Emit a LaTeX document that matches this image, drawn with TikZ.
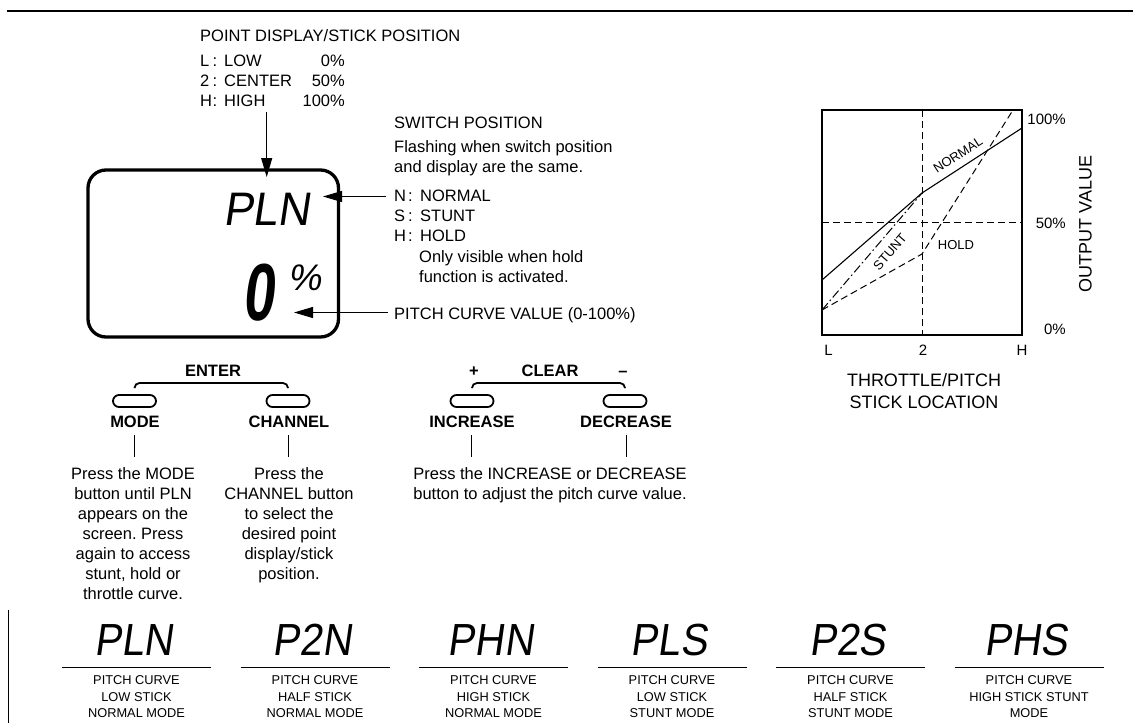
\documentclass[tikz,border=0pt]{standalone}
\usepackage{fontspec}
\usepackage{graphicx}
\setmainfont{Liberation Sans}
\newfontfamily\lcdfont{Liberation Sans}[FakeSlant=0.16]
\usetikzlibrary{arrows.meta}
\frenchspacing
\tikzset{
  txt/.style={font=\fontsize{16.5}{20}\selectfont, inner sep=0pt},
  btxt/.style={font=\fontsize{16.5}{20}\selectfont\bfseries, inner sep=0pt},
  smalltxt/.style={font=\fontsize{12.8}{16}\selectfont, inner sep=0pt},
  glab/.style={font=\fontsize{15}{18}\selectfont, inner sep=0pt},
  clab/.style={font=\fontsize{13}{15}\selectfont, inner sep=0pt},
  blab/.style={font=\fontsize{18}{22}\selectfont, inner sep=0pt},
  lcdtxt/.style={font=\fontsize{45}{48}\lcdfont, inner sep=0pt},
  pill/.style={draw, rectangle, rounded corners=6pt, minimum width=43pt, minimum height=12pt, line width=1.8pt, inner sep=0pt},
  ptr/.style={line width=1pt, -{Triangle[length=19pt,width=11pt]}},
  hair/.style={line width=1pt},
  brk/.style={line width=1.8pt, rounded corners=5pt},
  dsh/.style={line width=1pt, dash pattern=on 7pt off 4pt},
}
\begin{document}
\begin{tikzpicture}[x=1pt,y=-1pt]
\useasboundingbox (0,0) rectangle (1133,723);
% top rule
\coordinate (r1) at (6.7,11);
\coordinate (r2) at (1133,11);
\draw[line width=1.3pt] (r1) -- (r2);

% point display legend
\node[txt, anchor=base west] (pdsp) at (200,41.6) {POINT DISPLAY/STICK POSITION};
\foreach \a/\w/\p/\y [count=\i] in {L/LOW/0\%/66, 2/CENTER/50\%/86, H/HIGH/100\%/106.5} {
  \node[txt, anchor=base west] (pk\i) at (200,\y) {\a};
  \node[txt, anchor=base west] (pc\i) at (212.5,\y) {:};
  \node[txt, anchor=base west] (pw\i) at (224,\y) {\w};
  \node[txt, anchor=base east] (pp\i) at (345,\y) {\p};
}

% LCD box
\node[draw, line width=3.3pt, rounded corners=18pt, minimum width=250.5pt, minimum height=167pt, inner sep=0pt] (lcd) at (213.25,253.5) {};
\node[font=\fontsize{47}{50}\lcdfont, inner sep=0pt, anchor=base west] (lcdpln) at (223,225) {\scalebox{0.95}[1]{PLN}};
\node[font=\fontsize{81}{84}\lcdfont\bfseries, inner sep=0pt, anchor=base west] (lcdzero) at (242,320) {\scalebox{0.7}[1]{0}};
\node[font=\fontsize{37}{40}\lcdfont, inner sep=0pt, anchor=north west] (lcdpct) at (288,265) {\%};

\coordinate (aHtail) at (266.7,112);
\coordinate (aHtip) at (266.7,177);
\draw[ptr] (aHtail) -- (aHtip);

% switch position
\node[txt, anchor=base west] (swt) at (394,128.6) {SWITCH POSITION};
\node[txt, anchor=base west] (sw1) at (394,152.4) {Flashing when switch position};
\node[txt, anchor=base west] (sw2) at (394,172.4) {and display are the same.};
\foreach \a/\w/\y [count=\i] in {N/NORMAL/201, S/STUNT/221, H/HOLD/241} {
  \node[txt, anchor=base west] (sk\i) at (394,\y) {\a};
  \node[txt, anchor=base west] (sc\i) at (408,\y) {:};
  \node[txt, anchor=base west] (sw\i) at (420,\y) {\w};
}
\node[txt, anchor=base west] (only1) at (419,262) {Only visible when hold};
\node[txt, anchor=base west] (only2) at (419,282) {function is activated.};
\node[txt, anchor=base west] (pcv) at (394,319) {PITCH CURVE VALUE (0-100\%)};

\coordinate (a2tail) at (386,196.5);
\coordinate (a2tip) at (323,196.5);
\draw[ptr] (a2tail) -- (a2tip);
\coordinate (a3tail) at (388,312.5);
\coordinate (a3tip) at (294,312.5);
\draw[ptr] (a3tail) -- (a3tip);

% buttons
\node[btxt, anchor=base] (enter) at (213,376) {ENTER};
\node[btxt, anchor=base] (clear) at (550,376) {CLEAR};
\node[btxt, anchor=base] (plus) at (474,376) {+};
\node[btxt, anchor=base] (minus) at (623,376) {\textendash};
\node[pill] (bmode) at (134.5,401) {};
\node[pill] (bchan) at (288,401) {};
\node[pill] (binc) at (472,401) {};
\node[pill] (bdec) at (625,401) {};
\draw[brk] ([yshift=6pt]bmode.north) |- (enter.south |- 0,383) -| ([yshift=6pt]bchan.north);
\draw[brk] ([yshift=6pt]binc.north) |- (clear.south |- 0,383) -| ([yshift=6pt]bdec.north);

\node[btxt, anchor=base] (lmode) at (135,427.6) {MODE};
\node[btxt, anchor=base] (lchan) at (289,427.6) {CHANNEL};
\node[btxt, anchor=base] (linc) at (472,427.6) {INCREASE};
\node[btxt, anchor=base] (ldec) at (626,427.6) {DECREASE};
\foreach \n/\x in {lmode/134.5, lchan/288.5, linc/471.5, ldec/626} {
  \draw[hair] (\x,435) -- (\x,457);
}

\foreach \t [count=\i from 0] in {Press the MODE, button until PLN, appears on the, screen. Press, again to access, {stunt, hold or}, throttle curve.} {
  \node[txt, anchor=base] (dm\i) at (133,479+20*\i) {\t};
}
\foreach \t [count=\i from 0] in {Press the, CHANNEL button, to select the, desired point, display/stick, position.} {
  \node[txt, anchor=base] (dc\i) at (289,479+20*\i) {\t};
}
\node[txt, anchor=base] (di0) at (550,479) {Press the INCREASE or DECREASE};
\node[txt, anchor=base] (di1) at (550,499) {button to adjust the pitch curve value.};

% graph
\draw[line width=2.5pt] (822,110) rectangle (1022,335);
\draw[dsh] (922,110) -- (922,335);
\draw[dsh] (822,222.5) -- (1022,222.5);
\draw[line width=1.1pt] (822,280) -- (922,193) -- (1022,128);
\draw[line width=1pt, dash pattern=on 9pt off 3pt on 1.5pt off 3pt] (822,310) -- (922,193);
\draw[dsh] (822,310) -- (922,254) -- (1013,110);
\node[clab, rotate=33] (lnormal) at (958,155) {NORMAL};
\node[clab, rotate=49] (lstunt) at (890,252) {STUNT};
\node[clab] (lhold) at (956,245) {HOLD};
\node[glab, anchor=base east] (g100) at (1066,124.7) {100\%};
\node[glab, anchor=base east] (g50) at (1066,228.4) {50\%};
\node[glab, anchor=base east] (g0) at (1066,334.4) {0\%};
\node[blab, rotate=90] (gout) at (1085.5,224) {OUTPUT VALUE};
\node[glab, anchor=base] (gxl) at (828.5,355.4) {L};
\node[glab, anchor=base] (gx2) at (923,355.4) {2};
\node[glab, anchor=base] (gxh) at (1022,355.4) {H};
\node[blab, anchor=base] (gt1) at (924,386.4) {THROTTLE/PITCH};
\node[blab, anchor=base] (gt2) at (924,408.4) {STICK LOCATION};

% bottom row
\coordinate (vl1) at (8.3,610);
\coordinate (vl2) at (8.3,723);
\draw[line width=1.3pt] (vl1) -- (vl2);
\foreach \t/\b/\c [count=\i from 0] in {PLN/LOW STICK/NORMAL MODE, P2N/HALF STICK/NORMAL MODE, PHN/HIGH STICK/NORMAL MODE, PLS/LOW STICK/STUNT MODE, P2S/HALF STICK/STUNT MODE, PHS/HIGH STICK STUNT/MODE} {
  \pgfmathsetmacro\xx{136.5+178.5*\i}
  \node[lcdtxt, anchor=base] (bd\i) at (\xx-3,655) {\scalebox{0.9}[1]{\t}};
  \draw[hair] (\xx-74.5,667) -- (\xx+74.5,667);
  \node[smalltxt, anchor=base] (bt\i) at (\xx,684.6) {PITCH CURVE};
  \node[smalltxt, anchor=base] (bu\i) at (\xx,701) {\b};
  \node[smalltxt, anchor=base] (bv\i) at (\xx,717) {\c};
}
\end{tikzpicture}
\end{document}
